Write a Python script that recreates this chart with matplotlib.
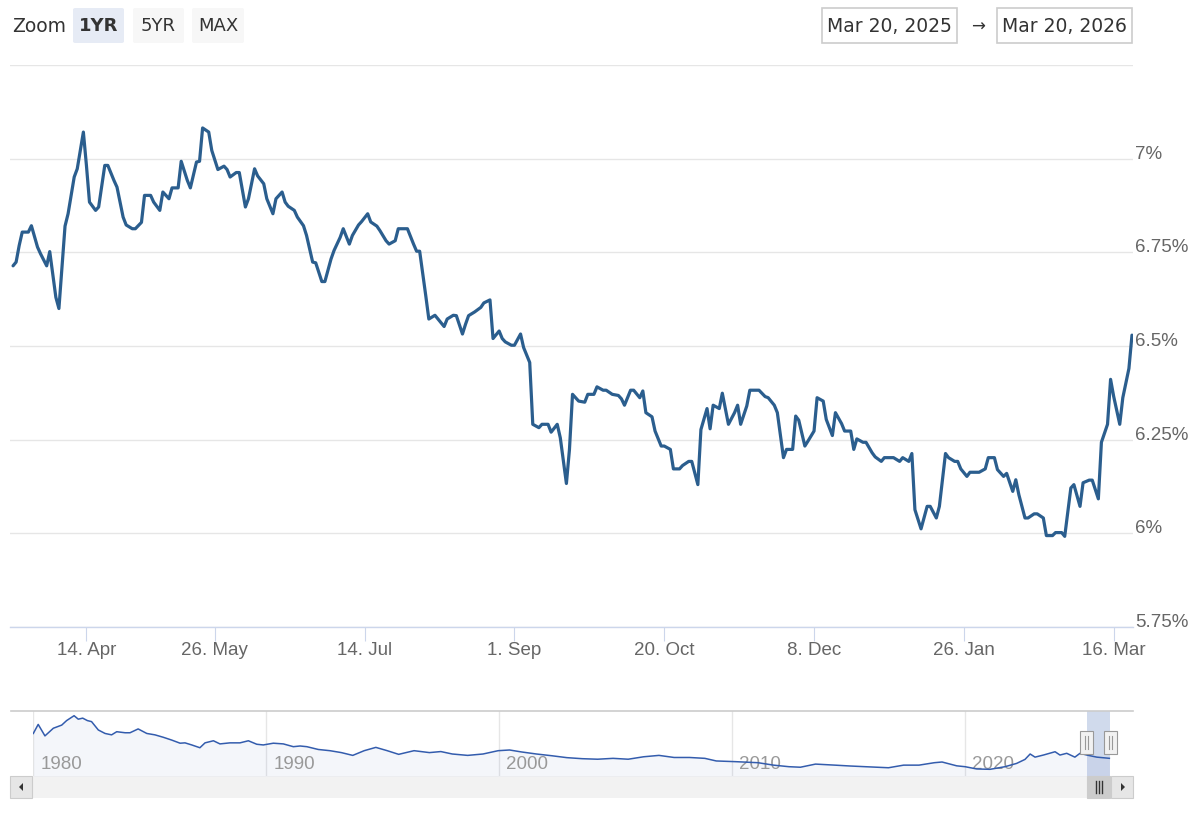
import pandas as pd
import matplotlib
matplotlib.use('Agg')
import matplotlib.pyplot as plt
from matplotlib import font_manager as fm
from matplotlib.patches import Rectangle, FancyBboxPatch, Polygon
from matplotlib.lines import Line2D


def pick_font(names):
    """Return the first installed family from names."""
    for name in names:
        try:
            fm.findfont(fm.FontProperties(family=name), fallback_to_default=False)
            return name
        except Exception:
            pass
    return 'DejaVu Sans'


LABEL_FONT = pick_font(['Liberation Sans', 'Arial', 'DejaVu Sans'])
UI_FONT = 'DejaVu Sans'
plt.rcParams['font.family'] = [LABEL_FONT, 'DejaVu Sans']

# ---- data -------------------------------------------------------------
start_date = pd.Timestamp('2025-03-20')

# days after 20 Mar 2025
day_offset = [
    1, 2, 3, 4, 6, 7, 9, 10, 12, 13, 15, 16, 18, 19, 21, 22, 24, 25, 26, 28,
    29, 31, 32, 34, 35, 37, 38, 40, 41, 43, 44, 46, 47, 49, 50, 52, 53, 55, 56, 58,
    59, 61, 62, 63, 65, 66, 68, 70, 71, 72, 74, 75, 77, 78, 80, 81, 83, 84, 86, 87,
    89, 90, 91, 93, 94, 96, 97, 99, 100, 102, 103, 105, 106, 108, 109, 111, 112, 114, 115, 117,
    118, 120, 121, 123, 124, 126, 127, 128, 130, 132, 133, 134, 136, 137, 139, 140, 142, 143, 145, 146,
    148, 149, 150, 152, 154, 155, 157, 158, 160, 161, 162, 164, 165, 167, 168, 170, 171, 173, 174, 176,
    177, 179, 180, 182, 183, 184, 186, 188, 189, 191, 192, 194, 195, 197, 199, 200, 201, 203, 204, 206,
    207, 208, 210, 211, 213, 214, 216, 217, 219, 220, 222, 223, 225, 226, 228, 229, 230, 232, 233, 235,
    237, 238, 239, 241, 242, 244, 245, 247, 248, 250, 251, 253, 254, 256, 257, 258, 260, 261, 263, 264,
    266, 267, 269, 270, 272, 273, 275, 276, 277, 279, 280, 282, 283, 285, 286, 288, 289, 291, 292, 294,
    295, 296, 298, 300, 301, 303, 304, 306, 307, 309, 310, 311, 313, 314, 316, 317, 319, 320, 322, 323,
    325, 326, 328, 329, 330, 332, 333, 335, 336, 338, 339, 341, 342, 344, 345, 347, 348, 350, 351, 353,
    354, 356, 357, 359, 360, 361, 363, 364, 366, 367,
]

rate = [
    6.714, 6.724, 6.768, 6.804, 6.804, 6.821, 6.764, 6.746, 6.714, 6.752,
    6.630, 6.600, 6.820, 6.853, 6.951, 6.973, 7.071, 6.982, 6.884, 6.862,
    6.871, 6.982, 6.982, 6.942, 6.924, 6.844, 6.823, 6.813, 6.813, 6.830,
    6.902, 6.902, 6.884, 6.862, 6.911, 6.893, 6.922, 6.922, 6.993, 6.942,
    6.922, 6.991, 6.993, 7.082, 7.071, 7.022, 6.971, 6.980, 6.971, 6.951,
    6.963, 6.963, 6.871, 6.893, 6.973, 6.954, 6.933, 6.893, 6.853, 6.893,
    6.911,
    6.884, 6.873, 6.862, 6.844, 6.821, 6.795, 6.724, 6.722, 6.672, 6.672,
    6.732, 6.755, 6.790, 6.813, 6.772, 6.795, 6.823, 6.832, 6.853, 6.831,
    6.820, 6.808, 6.781, 6.772, 6.781, 6.813, 6.813, 6.813, 6.772, 6.753,
    6.753, 6.634, 6.572, 6.582, 6.572, 6.552, 6.572, 6.582, 6.581, 6.532,
    6.558, 6.581, 6.591, 6.603, 6.615, 6.623, 6.520, 6.540, 6.520, 6.511,
    6.502, 6.502, 6.532, 6.496, 6.456, 6.291, 6.282, 6.291, 6.291, 6.270,
    6.291, 6.255, 6.133, 6.224, 6.371, 6.353,
    6.350, 6.371, 6.371, 6.391, 6.382, 6.382, 6.371, 6.368, 6.359, 6.342,
    6.382, 6.382, 6.362, 6.380, 6.322, 6.311, 6.273, 6.233, 6.233, 6.224,
    6.172, 6.172, 6.181, 6.192, 6.192, 6.130, 6.277, 6.333, 6.279, 6.342,
    6.333, 6.374, 6.291, 6.322, 6.342, 6.291, 6.340, 6.382, 6.382, 6.382,
    6.365, 6.362, 6.342, 6.322, 6.202, 6.224, 6.224, 6.313, 6.302, 6.233,
    6.246, 6.273, 6.362, 6.353, 6.304, 6.261, 6.322, 6.293, 6.273, 6.273,
    6.224, 6.252, 6.243, 6.243, 6.215, 6.204, 6.192, 6.202, 6.202, 6.202,
    6.192, 6.202, 6.192, 6.213, 6.063, 6.012, 6.072, 6.072, 6.041, 6.072,
    6.213, 6.202, 6.192, 6.192, 6.172, 6.152, 6.163, 6.163, 6.163, 6.172,
    6.202, 6.202, 6.170, 6.152, 6.160, 6.112, 6.143, 6.103, 6.041, 6.041,
    6.052, 6.052, 6.041, 5.994, 5.994, 6.002, 6.002, 5.992, 6.121, 6.130,
    6.072, 6.135, 6.142, 6.142, 6.092, 6.243, 6.291, 6.411, 6.366, 6.291,
    6.362, 6.440, 6.529,
]

tick_dates = ['2025-04-14', '2025-05-26', '2025-07-14', '2025-09-01',
              '2025-10-20', '2025-12-08', '2026-01-26', '2026-03-16']
tick_labels = ['14. Apr', '26. May', '14. Jul', '1. Sep',
               '20. Oct', '8. Dec', '26. Jan', '16. Mar']
y_ticks = [5.75, 6.0, 6.25, 6.5, 6.75, 7.0, 7.25]
y_labels = ['5.75%', '6%', '6.25%', '6.5%', '6.75%', '7%', '']

# navigator: long history (decimal year, rate)
nav_year = [
    1980.0, 1980.21, 1980.5, 1980.86, 1981.22, 1981.43, 1981.75, 1981.93, 1982.12, 1982.32,
    1982.5, 1982.79, 1983.08, 1983.36, 1983.58, 1983.94, 1984.15, 1984.5, 1984.87, 1985.22,
    1985.58, 1985.94, 1986.3, 1986.51, 1986.8, 1987.15, 1987.37, 1987.73, 1988.01, 1988.44,
    1988.87, 1989.23, 1989.59, 1989.87, 1990.3, 1990.73, 1991.16, 1991.45, 1991.74, 1992.23,
    1992.73, 1993.22, 1993.71, 1994.2, 1994.7, 1995.19, 1995.68, 1996.34, 1997.0, 1997.49,
    1997.98, 1998.64, 1999.3, 1999.95, 2000.44, 2000.94, 2001.59, 2002.25, 2002.9, 2003.56,
    2004.22, 2004.88, 2005.53, 2006.19, 2006.85, 2007.5, 2008.16, 2008.82, 2009.31, 2010.13,
    2011.1, 2011.77, 2012.43, 2012.92, 2013.57, 2014.4, 2015.06, 2015.71, 2016.7, 2017.35,
    2018.01, 2018.67, 2019.0, 2019.63, 2019.99, 2020.49, 2021.06, 2021.7, 2022.2, 2022.56,
    2022.78, 2022.99, 2023.35, 2023.85, 2024.06, 2024.35, 2024.7, 2024.92, 2025.21, 2025.64,
    2026.18,
]
nav_rate = [
    13.2, 15.8, 12.5, 14.7, 15.6, 16.9, 18.3, 17.3, 17.6, 16.9,
    16.6, 14.2, 13.2, 12.8, 13.7, 13.4, 13.4, 14.5, 13.2, 12.8,
    12.1, 11.3, 10.4, 10.5, 9.9, 9.1, 10.5, 11.1, 10.2, 10.5,
    10.5, 11.1, 10.1, 9.9, 10.4, 10.2, 9.4, 9.6, 9.4, 8.6,
    8.25, 7.7, 6.9, 8.25, 9.2, 8.25, 7.2, 8.25, 7.7, 8.0,
    7.3, 6.9, 7.3, 8.25, 8.45, 7.9, 7.3, 6.8, 6.25, 5.95,
    5.8, 6.05, 5.8, 6.5, 6.9, 6.3, 6.3, 6.05, 5.3, 5.1,
    4.8, 4.1, 3.65, 3.5, 4.4, 4.1, 3.85, 3.65, 3.35, 4.1,
    4.1, 4.8, 5.0, 3.9, 3.65, 3.0, 2.9, 3.65, 4.6, 5.75,
    7.3, 6.4, 7.0, 7.95, 7.0, 7.5, 6.4, 7.5, 7.0, 6.4,
    6.06,
]
nav_ticks = [1980, 1990, 2000, 2010, 2020]

range_buttons = ['1YR', '5YR', 'MAX']
range_from = 'Mar 20, 2025'
range_to = 'Mar 20, 2026'

# ---- layout helpers (pixel coordinates, origin top-left) -------------
W, H = 1200, 817


def fx(x):
    return x / W


def fy(y):
    return 1 - y / H


def box(x0, y0, x1, y1):
    return [fx(x0), fy(y1), (x1 - x0) / W, (y1 - y0) / H]


fig = plt.figure(figsize=(W / 100, H / 100), dpi=100)
fig.patch.set_facecolor('white')

# ---- main chart -------------------------------------------------------
dates = start_date + pd.to_timedelta(day_offset, unit='D')

ax = fig.add_axes(box(10, 65, 1133, 627))
ax.plot(dates, rate, color='#2b5e8e', lw=2.3, solid_joinstyle='round',
        solid_capstyle='round', zorder=3)
ax.set_xlim(start_date, pd.Timestamp('2026-03-22 08:00'))
ax.set_ylim(5.75, 7.25)

ax.set_xticks(pd.to_datetime(tick_dates))
ax.set_xticklabels(tick_labels)
ax.set_yticks(y_ticks)
ax.set_yticklabels(y_labels)
ax.yaxis.tick_right()
for lbl in ax.get_yticklabels():
    lbl.set_va('baseline')

ax.grid(axis='y', color='#e6e6e6', lw=1)
ax.set_axisbelow(True)
for side in ['top', 'left', 'right']:
    ax.spines[side].set_visible(False)
ax.spines['bottom'].set_color('#ccd6eb')
ax.spines['bottom'].set_linewidth(1)
ax.tick_params(axis='x', length=10, width=0.8, color='#ccd6eb', pad=1,
               labelsize=13.5, labelcolor='#666666')
ax.tick_params(axis='y', length=0, pad=1.5, labelsize=13.5, labelcolor='#666666')

# ---- navigator --------------------------------------------------------
nav = fig.add_axes(box(33.3, 711, 1111, 776))
nav.set_xlim(1980.0, 2026.25)
nav.set_ylim(0.98, 19.65)
nav.axis('off')
for yr in nav_ticks:
    nav.axvline(yr, color='#e6e6e6', lw=1, zorder=1)
    nav.annotate(str(yr), xy=(yr, 0), xycoords=('data', 'axes fraction'),
                 xytext=(5, 5), textcoords='offset points', ha='left',
                 va='baseline', fontsize=13.5, color='#999999', zorder=2)
nav.fill_between(nav_year, nav_rate, 0.98, color='#335cad', alpha=0.05, lw=0)
nav.plot(nav_year, nav_rate, color='#335cad', lw=1.1, zorder=3)

sel_start = start_date.year + (start_date.dayofyear - 1) / 365
sel_end = dates[-1].year + (dates[-1].dayofyear - 1) / 365
nav.axvspan(sel_start, sel_end, color='#6685c2', alpha=0.3, lw=0, zorder=2)

xt = nav.get_xaxis_transform()
# scrollbar thumb below the selection
thumb = Rectangle((sel_start, -0.338), sel_end - sel_start, 0.338, transform=xt,
                  fc='#cccccc', ec='#cccccc', lw=0.8, clip_on=False, zorder=6)
nav.add_patch(thumb)
mid = (sel_start + sel_end) / 2
for dx in (-0.13, 0, 0.13):
    nav.add_line(Line2D([mid + dx, mid + dx], [-0.26, -0.08], transform=xt,
                        color='#333333', lw=1, clip_on=False, zorder=7))

# navigator handles
hw = 13 / 23.3
for pos in (sel_start, sel_end):
    nav.add_patch(Rectangle((pos - hw / 2, 0.338), hw, 0.354, transform=xt,
                            fc='#f2f2f2', ec='#999999', lw=0.8, clip_on=False, zorder=6))
    for dx in (-0.07, 0.07):
        nav.add_line(Line2D([pos + dx, pos + dx], [0.42, 0.61], transform=xt,
                            color='#999999', lw=0.8, clip_on=False, zorder=7))

tf = fig.transFigure
# navigator outline and scrollbar track/buttons
fig.add_artist(Line2D([fx(11), fx(1133)], [fy(711), fy(711)], transform=tf,
                      color='#cccccc', lw=1.2))
fig.add_artist(Rectangle((fx(10), fy(798)), 1123 / W, 22 / H, transform=tf,
                         fc='#f2f2f2', ec='none', zorder=0))
for x0 in (10, 1111):
    fig.add_artist(Rectangle((fx(x0), fy(798)), 22 / W, 22 / H, transform=tf,
                             fc='#e6e6e6', ec='#cccccc', lw=0.8))
fig.add_artist(Polygon([(fx(19), fy(787)), (fx(23), fy(783)), (fx(23), fy(791))],
                       closed=True, transform=tf, fc='#333333', ec='none'))
fig.add_artist(Polygon([(fx(1125), fy(787)), (fx(1121), fy(783)), (fx(1121), fy(791))],
                       closed=True, transform=tf, fc='#333333', ec='none'))

# ---- range selector ---------------------------------------------------
fig.text(fx(12), fy(26), 'Zoom', ha='left', va='center', fontsize=13.5,
         color='#333333', family=UI_FONT)
btn_x = [(73, 124), (133, 184), (192, 244)]
for i, (label, (x0, x1)) in enumerate(zip(range_buttons, btn_x)):
    selected = i == 0
    fig.add_artist(FancyBboxPatch((fx(x0), fy(43)), (x1 - x0) / W, 35 / H,
                                  boxstyle='round,pad=0,rounding_size=0.002',
                                  transform=tf, ec='none',
                                  fc='#e6ebf5' if selected else '#f7f7f7'))
    fig.text(fx((x0 + x1) / 2), fy(26), label, ha='center', va='center',
             fontsize=13, color='#333333', family=UI_FONT,
             fontweight='bold' if selected else 'normal')

for text, (x0, x1) in zip([range_from, range_to], [(822, 957), (997, 1132)]):
    fig.add_artist(Rectangle((fx(x0), fy(43)), (x1 - x0) / W, 35 / H, transform=tf,
                             fc='white', ec='#cccccc', lw=1.2))
    fig.text(fx((x0 + x1) / 2), fy(26), text, ha='center', va='center',
             fontsize=13.5, color='#333333', family=UI_FONT)
fig.text(fx(978), fy(27), '\u2192', ha='center', va='center', fontsize=12,
         color='#333333', family=UI_FONT)

fig.savefig('out.png', dpi=100)
